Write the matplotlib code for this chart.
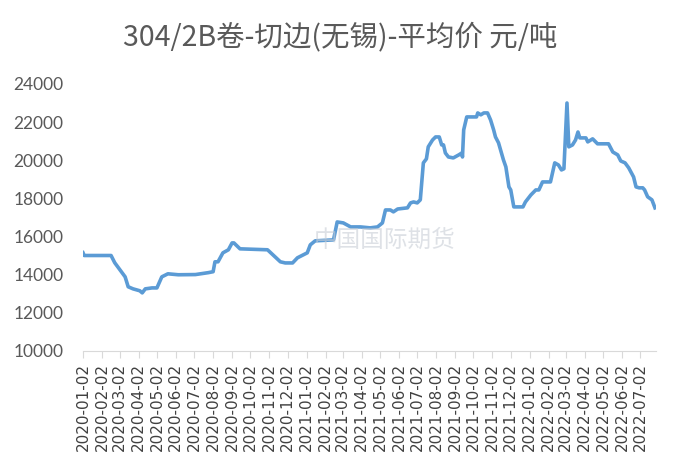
import datetime as dt
import numpy as np
import matplotlib.pyplot as plt
import matplotlib.dates as mdates

plt.rcParams['font.family'] = ['Noto Sans CJK SC', 'DejaVu Sans']

title = '304/2B卷-切边(无锡)-平均价 元/吨'
start = dt.date(2020, 1, 2)
end = dt.date(2022, 7, 28)

# days after 2020-01-02, price in yuan/ton
days = [0, 2, 46, 52, 69, 74, 82, 93, 97, 102, 113, 121, 129, 139, 156, 184,
        205, 213, 216, 221, 229, 238, 244, 247, 257, 302, 311, 323, 331, 343,
        351, 367, 372, 380, 410, 416, 426, 438, 454, 470, 482, 490, 495, 503,
        508, 515, 531, 536, 541, 547, 552, 557, 562, 565, 572, 577, 583, 587,
        590, 593, 598, 606, 615, 620, 621, 623, 628, 644, 646, 651, 656, 662,
        667, 672, 675, 680, 688, 692, 697, 700, 705, 720, 724, 733, 741, 746,
        752, 765, 772, 778, 783, 787, 792, 795, 801, 806, 810, 813, 823, 826,
        834, 842, 860, 867, 875, 880, 887, 893, 901, 905, 910, 916, 919, 924,
        931, 936]
price = [15150, 15000, 15000, 14620, 13880, 13360, 13250, 13150, 13040, 13250,
         13300, 13300, 13880, 14040, 13990, 14000, 14100, 14150, 14670, 14670,
         15140, 15300, 15660, 15660, 15350, 15300, 15030, 14670, 14610, 14610,
         14880, 15140, 15560, 15770, 15820, 16760, 16710, 16500, 16500, 16450,
         16500, 16710, 17390, 17390, 17290, 17440, 17500, 17760, 17810, 17760,
         17920, 19860, 20070, 20700, 21060, 21220, 21220, 20800, 20800, 20380,
         20170, 20120, 20280, 20380, 20170, 21590, 22270, 22270, 22480, 22380,
         22480, 22480, 22110, 21590, 21220, 20910, 20020, 19650, 18600, 18440,
         17550, 17550, 17810, 18180, 18440, 18440, 18860, 18860, 19860, 19750,
         19490, 19550, 23000, 20700, 20800, 21060, 21480, 21170, 21170, 20960,
         21120, 20860, 20860, 20430, 20280, 19960, 19860, 19600, 19120, 18600,
         18550, 18550, 18440, 18080, 17920, 17500]

dates = [start + dt.timedelta(days=d) for d in days]
tick_dates = [dt.date(2020 + (m // 12), m % 12 + 1, 2) for m in range(31)]

fig = plt.figure(figsize=(6.8, 4.69), dpi=100)
ax = fig.add_axes([0.122, 0.252, 0.843, 0.569])

ax.plot(dates, price, color='#5B9BD5', lw=2.6, solid_joinstyle='round')

ax.set_ylim(10000, 24000)
ax.set_yticks(np.arange(10000, 24001, 2000))
ax.set_xlim(start, end)
ax.set_xticks(tick_dates)
ax.xaxis.set_major_formatter(mdates.DateFormatter('%Y-%m-%d'))

for s in ['top', 'right', 'left']:
    ax.spines[s].set_visible(False)
ax.spines['bottom'].set_color('#D9D9D9')
ax.tick_params(axis='y', length=0, pad=14, labelsize=12.5, labelcolor='#595959')
ax.tick_params(axis='x', length=5, color='#D9D9D9', labelsize=11,
               labelcolor='#404040', rotation=90, pad=4)
for lb in ax.get_yticklabels():
    lb.set_family(['Lato', 'DejaVu Sans'])
for lb in ax.get_xticklabels():
    lb.set_family(['DejaVu Sans'])

fig.text(0.5, 0.92, title, ha='center', va='center', fontsize=20.5, color='#595959')

# faint watermark
fig.text(0.565, 0.488, '中国国际期货', ha='center', va='center', fontsize=17,
         color='#C8CED6', alpha=0.6)

fig.savefig('out.png', dpi=100)
